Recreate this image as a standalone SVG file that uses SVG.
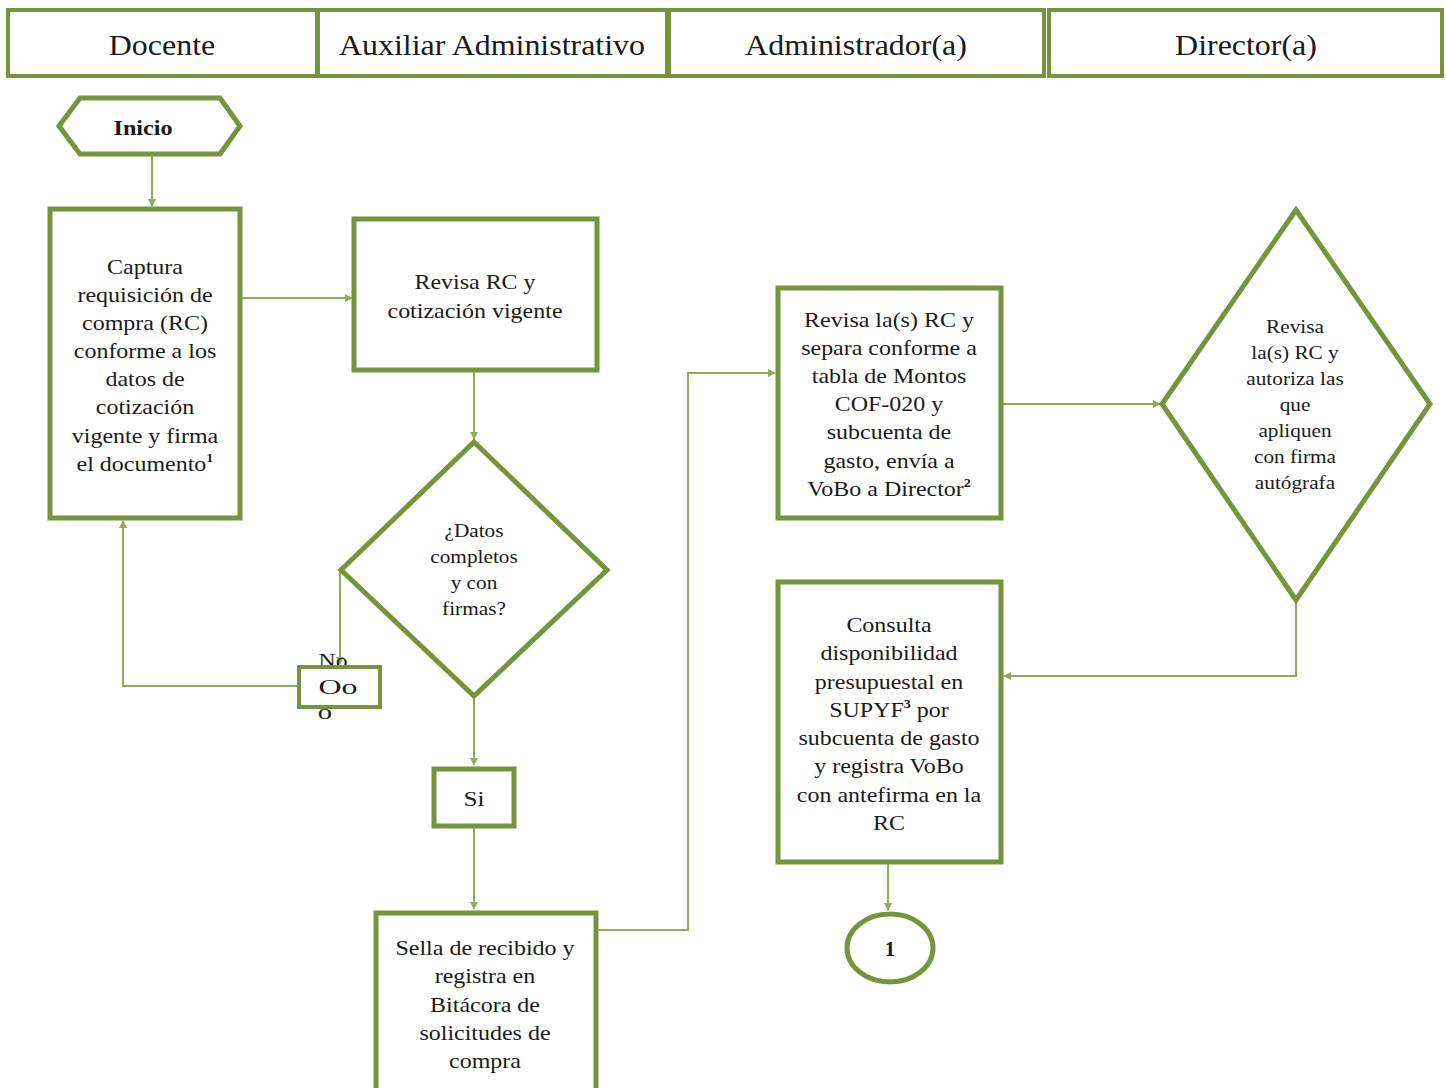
<svg xmlns="http://www.w3.org/2000/svg" width="1447" height="1088" viewBox="0 0 1447 1088">
<style>
.box{fill:#fff;stroke:#77933C;stroke-width:5}
.hdr{fill:#fff;stroke:#77933C;stroke-width:4}
.ln{fill:none;stroke:#8FAA5C;stroke-width:2}
text{font-family:'Liberation Serif','Times New Roman',serif;fill:#1a1a1a;text-anchor:middle}
.h{font-size:30px}
.t{font-size:22px}
.d{font-size:19px}
.b{font-weight:bold}
</style>
<defs>
<marker id="ar" viewBox="0 0 8 8" refX="7" refY="4" markerWidth="4" markerHeight="4" orient="auto" markerUnits="strokeWidth">
<path d="M0,0 L8,4 L0,8 z" fill="#8FAA5C"/>
</marker>
</defs>
<rect width="1447" height="1088" fill="#fff"/>

<g id="connectors">
<path class="ln" d="M152,155 V206" marker-end="url(#ar)"/>
<path class="ln" d="M241,298 H352" marker-end="url(#ar)"/>
<path class="ln" d="M474,371 V439" marker-end="url(#ar)"/>
<path class="ln" d="M340,570 V664" marker-end="url(#ar)"/>
<path class="ln" d="M298,686 H123 V521" marker-end="url(#ar)"/>
<path class="ln" d="M474,697 V765" marker-end="url(#ar)"/>
<path class="ln" d="M474,828 V909" marker-end="url(#ar)"/>
<path class="ln" d="M597,930 H688 V373 H775" marker-end="url(#ar)"/>
<path class="ln" d="M1002,404 H1160" marker-end="url(#ar)"/>
<path class="ln" d="M1296,601 V676 H1004" marker-end="url(#ar)"/>
<path class="ln" d="M888,863 V910" marker-end="url(#ar)"/>
</g>

<g id="lane-docente"><rect class="hdr" x="8" y="10" width="309" height="66"/><text class="h" transform="translate(162,55) scale(1.065,1)">Docente</text></g>
<g id="lane-auxiliar"><rect class="hdr" x="318" y="10" width="349" height="66"/><text class="h" transform="translate(492,55) scale(1.065,1)">Auxiliar Administrativo</text></g>
<g id="lane-administrador"><rect class="hdr" x="669" y="10" width="375" height="66"/><text class="h" transform="translate(856,55) scale(1.065,1)">Administrador(a)</text></g>
<g id="lane-director"><rect class="hdr" x="1049" y="10" width="393" height="66"/><text class="h" transform="translate(1246,55) scale(1.065,1)">Director(a)</text></g>

<g id="inicio">
<polygon class="box" points="59,126 80,98 220,98 240,126 220,154 80,154"/>
<text class="b" font-size="21" transform="translate(143,135) scale(1.15,1)">Inicio</text>
</g>

<g id="captura">
<rect class="box" x="50" y="209" width="190" height="309"/>
<text class="t" transform="translate(145,0) scale(1.09,1)"><tspan x="0" y="274">Captura</tspan><tspan x="0" y="302">requisición de</tspan><tspan x="0" y="330">compra (RC)</tspan><tspan x="0" y="358">conforme a los</tspan><tspan x="0" y="386">datos de</tspan><tspan x="0" y="414">cotización</tspan><tspan x="0" y="443">vigente y firma</tspan><tspan x="0" y="471">el documento<tspan font-size="13" dy="-9" font-weight="bold">1</tspan></tspan></text>
</g>

<g id="revisa-rc">
<rect class="box" x="354" y="219" width="243" height="151"/>
<text class="t" transform="translate(475,0) scale(1.09,1)"><tspan x="0" y="289">Revisa RC y</tspan><tspan x="0" y="318">cotización vigente</tspan></text>
</g>

<g id="datos-completos">
<polygon class="box" points="474,442 607,570 474,696 341,570"/>
<text class="d" transform="translate(474,0) scale(1.12,1)"><tspan x="0" y="537">¿Datos</tspan><tspan x="0" y="563">completos</tspan><tspan x="0" y="589">y con</tspan><tspan x="0" y="615">firmas?</tspan></text>
</g>

<g id="no">
<text font-size="19" transform="translate(333,667) scale(1.25,1)">No</text>
<rect class="box" x="299" y="667" width="81" height="40" style="stroke-width:4;fill:none"/>
<text font-size="22" transform="translate(338,694) scale(1.45,1)">Oo</text>
<text font-size="22" transform="translate(325,719) scale(1.3,1)">o</text>
</g>

<g id="si">
<rect class="box" x="434" y="769" width="80" height="57"/>
<text class="t" transform="translate(474,806) scale(1.15,1)">Si</text>
</g>

<g id="sella">
<rect class="box" x="376" y="913" width="220" height="190"/>
<text class="t" transform="translate(485,0) scale(1.09,1)"><tspan x="0" y="955">Sella de recibido y</tspan><tspan x="0" y="983">registra en</tspan><tspan x="0" y="1012">Bitácora de</tspan><tspan x="0" y="1040">solicitudes de</tspan><tspan x="0" y="1068">compra</tspan></text>
</g>

<g id="revisa-separa">
<rect class="box" x="778" y="288" width="223" height="230"/>
<text class="t" transform="translate(889,0) scale(1.09,1)"><tspan x="0" y="327">Revisa la(s) RC y</tspan><tspan x="0" y="355">separa conforme a</tspan><tspan x="0" y="383">tabla de Montos</tspan><tspan x="0" y="411">COF-020 y</tspan><tspan x="0" y="439">subcuenta de</tspan><tspan x="0" y="468">gasto, envía a</tspan><tspan x="0" y="496">VoBo a Director<tspan font-size="13" dy="-9" font-weight="bold">2</tspan></tspan></text>
</g>

<g id="director-autoriza">
<polygon class="box" points="1296,210 1430,404 1296,600 1162,404"/>
<text class="d" transform="translate(1295,0) scale(1.12,1)"><tspan x="0" y="333">Revisa</tspan><tspan x="0" y="359">la(s) RC y</tspan><tspan x="0" y="385">autoriza las</tspan><tspan x="0" y="411">que</tspan><tspan x="0" y="437">apliquen</tspan><tspan x="0" y="463">con firma</tspan><tspan x="0" y="489">autógrafa</tspan></text>
</g>

<g id="consulta">
<rect class="box" x="778" y="582" width="223" height="280"/>
<text class="t" transform="translate(889,0) scale(1.09,1)"><tspan x="0" y="632">Consulta</tspan><tspan x="0" y="660">disponibilidad</tspan><tspan x="0" y="689">presupuestal en</tspan><tspan x="0" y="717">SUPYF<tspan font-size="13" dy="-9" font-weight="bold">3</tspan><tspan dy="9"> por</tspan></tspan><tspan x="0" y="745">subcuenta de gasto</tspan><tspan x="0" y="773">y registra VoBo</tspan><tspan x="0" y="802">con antefirma en la</tspan><tspan x="0" y="830">RC</tspan></text>
</g>

<g id="conector-1">
<ellipse class="box" cx="890" cy="948" rx="43" ry="34"/>
<text class="b" x="890" y="956" font-size="21">1</text>
</g>
</svg>
